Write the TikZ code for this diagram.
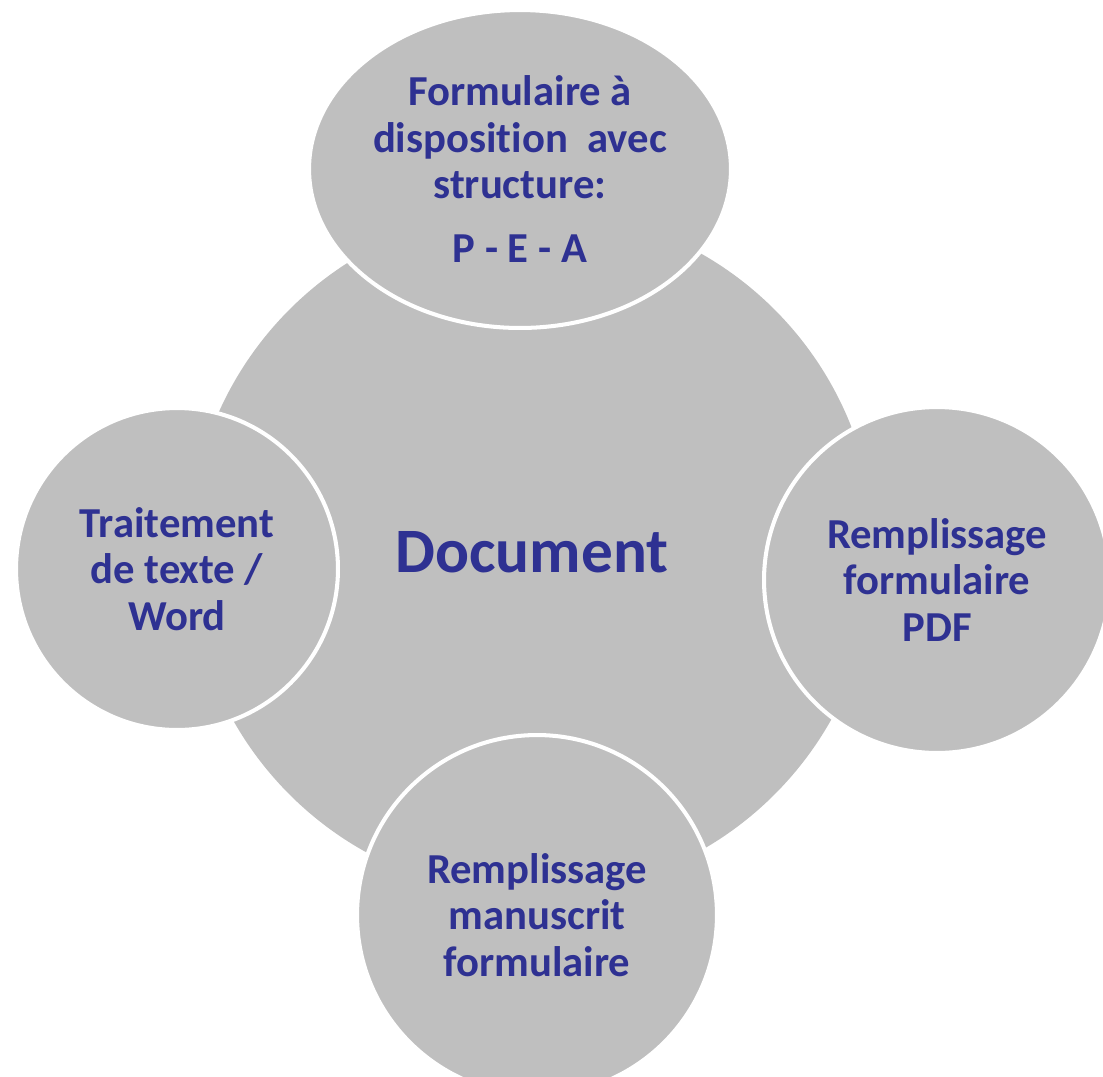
\documentclass[tikz,border=0pt]{standalone}
\usepackage{fontspec}
\setmainfont{Carlito}[Ligatures={NoCommon}]
\usetikzlibrary{shapes.geometric}
\definecolor{discgray}{RGB}{191,191,191}
\definecolor{labelblue}{RGB}{46,49,146}
\tikzset{
    disc/.style={circle, fill=discgray, draw=white, line width=2.3pt, inner sep=0pt,
        align=center, text=labelblue, font=\fontsize{24.3}{26.4}\selectfont\bfseries},
}

\begin{document}
\begin{tikzpicture}[x=0.02cm, y=-0.02cm]
    \useasboundingbox (0,0) rectangle (1103,1076);
    \clip (0,0) rectangle (1103,1076);

    \node[circle, fill=discgray, minimum size=13.72cm, text=labelblue,
        font=\fontsize{36}{40}\selectfont\bfseries] (doc) at (532,552) {Document};

    \node[disc, ellipse, minimum width=8.44cm, minimum height=6.36cm] (form) at (520,169)
        {Formulaire à\\disposition\ \ avec\\structure:\\[10pt]P - E - A};
    \node[disc, minimum size=6.44cm] (word) at (177,569) {Traitement\\de texte /\\Word};
    \node[disc, minimum size=6.92cm] (pdf) at (937,580) {Remplissage\\formulaire\\PDF};
    \node[disc, minimum size=7.2cm] (hand) at (537,915) {Remplissage\\manuscrit\\formulaire};
\end{tikzpicture}
\end{document}
